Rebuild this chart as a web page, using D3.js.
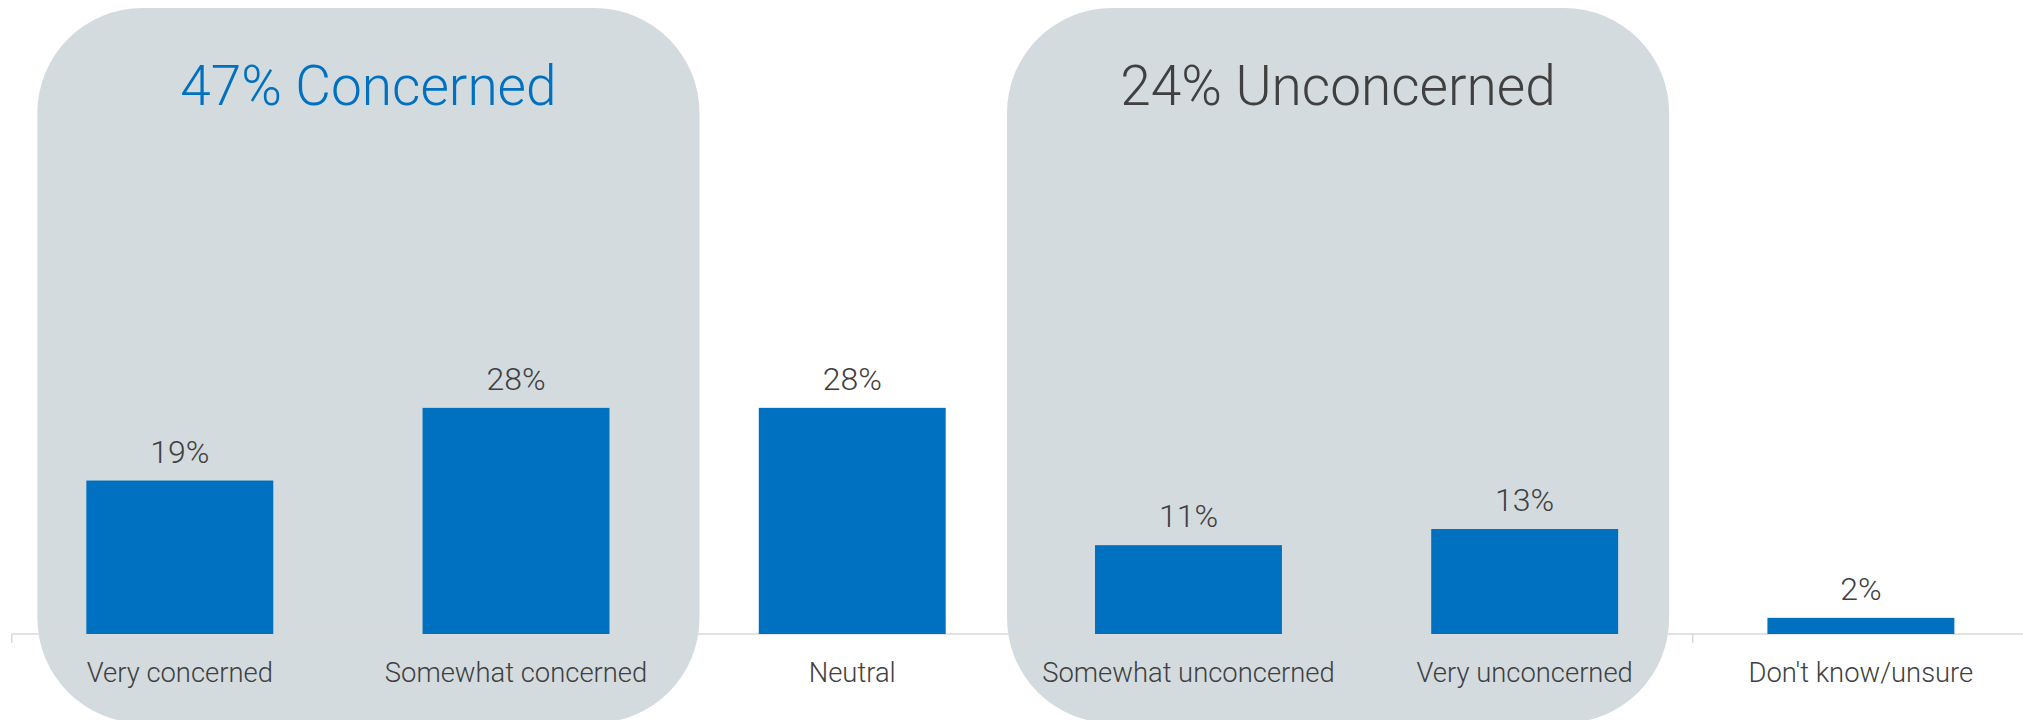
<!DOCTYPE html>
<html>
<head>
<meta charset="utf-8">
<script src="https://cdn.jsdelivr.net/npm/d3@7/dist/d3.min.js"></script>
<style>
  html, body { margin: 0; padding: 0; background: #ffffff; }
  svg { display: block; }
  text { font-family: Roboto, "Liberation Sans", Arial, sans-serif; font-weight: 300; }
</style>
</head>
<body>
<svg id="chart" width="2023" height="720"></svg>
<script>
// Survey responses, share of respondents (%)
const categories = [
  "Very concerned",
  "Somewhat concerned",
  "Neutral",
  "Somewhat unconcerned",
  "Very unconcerned",
  "Don't know/unsure"
];
const values = [19, 28, 28, 11, 13, 2];

// Grouped summaries shown as shaded panels behind the bars
const groupLabels = ["47% Concerned", "24% Unconcerned"];
const groupFirst = ["Very concerned", "Somewhat unconcerned"];
const groupLast = ["Somewhat concerned", "Very unconcerned"];

const W = 2023, H = 720;
const baseY = 634;
const barColor = "#0070C0";
const textColor = "#404040";
const panelColor = "#D3DBDE";
const axisColor = "#D9D9D9";
const groupColors = [barColor, textColor];

const svg = d3.select("#chart");

const x = d3.scaleBand()
  .domain(categories)
  .range([11.7, 2029])
  .paddingInner(0.444)
  .paddingOuter(0.222);

const y = d3.scaleLinear()
  .domain([0, 78.5])
  .range([baseY, 0]);

// Shaded group panels
const panelPad = [[49, 90], [88, 51]];
const panels = svg.append("g").attr("class", "panels");
groupLabels.forEach((label, i) => {
  const x0 = x(groupFirst[i]) - panelPad[i][0];
  const x1 = x(groupLast[i]) + x.bandwidth() + panelPad[i][1];
  panels.append("rect")
    .attr("x", x0)
    .attr("y", 8)
    .attr("width", x1 - x0)
    .attr("height", 715)
    .attr("rx", 105)
    .attr("ry", 105)
    .attr("fill", panelColor);
  panels.append("text")
    .attr("x", (x0 + x1) / 2)
    .attr("y", 105)
    .attr("text-anchor", "middle")
    .attr("font-size", 55)
    .attr("fill", groupColors[i])
    .text(label);
});

// Baseline with separators between categories
const axisG = svg.append("g").attr("class", "baseline");
const [r0, r1] = x.range();
axisG.append("line")
  .attr("x1", r0).attr("x2", r1)
  .attr("y1", baseY).attr("y2", baseY)
  .attr("stroke", axisColor)
  .attr("stroke-width", 1.5);
axisG.selectAll("line.sep")
  .data(d3.range(categories.length + 1))
  .join("line")
  .attr("class", "sep")
  .attr("x1", i => r0 + i * x.step())
  .attr("x2", i => r0 + i * x.step())
  .attr("y1", baseY)
  .attr("y2", baseY + 9)
  .attr("stroke", axisColor)
  .attr("stroke-width", 1.5);

// Bars
svg.append("g").attr("class", "bars")
  .selectAll("rect")
  .data(categories)
  .join("rect")
  .attr("x", d => x(d))
  .attr("y", (d, i) => y(values[i]))
  .attr("width", x.bandwidth())
  .attr("height", (d, i) => y(0) - y(values[i]))
  .attr("fill", barColor);

// Value labels
svg.append("g").attr("class", "values")
  .selectAll("text")
  .data(categories)
  .join("text")
  .attr("x", d => x(d) + x.bandwidth() / 2)
  .attr("y", (d, i) => y(values[i]) - 18)
  .attr("text-anchor", "middle")
  .attr("font-size", 32)
  .attr("fill", textColor)
  .text((d, i) => values[i] + "%");

// Category labels
const xAxis = d3.axisBottom(x).tickSize(0).tickPadding(0);
const xg = svg.append("g")
  .attr("class", "x-axis")
  .attr("transform", `translate(0,${baseY})`)
  .call(xAxis);
xg.select(".domain").remove();
xg.selectAll("text")
  .attr("dy", null)
  .attr("y", 48)
  .attr("font-size", 27.4)
  .attr("font-family", "Roboto, 'Liberation Sans', Arial, sans-serif")
  .attr("font-weight", 300)
  .attr("fill", textColor);
</script>
</body>
</html>
